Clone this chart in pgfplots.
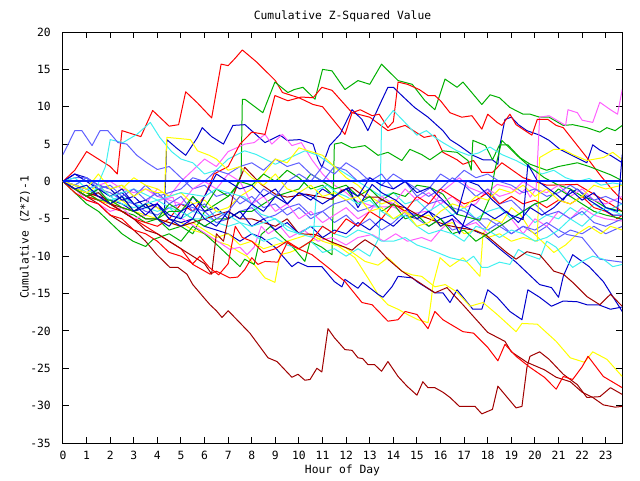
\documentclass[border=0pt]{standalone}
\usepackage{pgfplots}
\pgfplotsset{compat=1.18}
\usepackage{fontspec}
\setmainfont{DejaVu Sans Mono}
\setmonofont{DejaVu Sans Mono}
\definecolor{cR}{HTML}{FF0000}
\definecolor{cG}{HTML}{00B000}
\definecolor{cB}{HTML}{0000CC}
\definecolor{cM}{HTML}{FF60FF}
\definecolor{cC}{HTML}{40F0F0}
\definecolor{cS}{HTML}{6060FF}
\definecolor{cY}{HTML}{FFFF00}
\definecolor{cD}{HTML}{A00000}
\definecolor{cZ}{HTML}{0020FF}
\begin{document}
\begin{tikzpicture}
\path[use as bounding box] (0pt,0pt) rectangle (480pt,360pt);
\begin{axis}[
 at={(47.25pt,27.75pt)}, anchor=south west,
 scale only axis, width=419.25pt, height=308.25pt,
 xmin=0, xmax=23.69, ymin=-35, ymax=20,
 xtick={0,...,23}, ytick={-35,-30,...,20},
 tick align=inside, major tick length=4.5pt,
 axis line style={line width=0.75pt},
 every tick/.style={black, line width=0.75pt},
 /pgf/number format/assume math mode=true,
 ticklabel style={font=\fontsize{8.5}{10}\selectfont},
 xticklabel style={inner sep=0pt, yshift=-6pt},
 yticklabel style={inner sep=0pt, xshift=-9pt},
 every axis title shift=0pt,
 title={Cumulative Z-Squared Value},
 title style={at={(0.5,1.039)}, anchor=center, inner sep=0pt, font=\fontsize{8.5}{10}\selectfont},
 xlabel={Hour of Day},
 xlabel style={at={(0.5,-0.0657)}, anchor=center, inner sep=0pt, font=\fontsize{8.5}{10}\selectfont},
 ylabel={Cumulative (Z*Z)-1},
 ylabel style={at={(-0.068,0.5)}, anchor=center, inner sep=0pt, font=\fontsize{8.5}{10}\selectfont},
 no markers,
 every axis plot/.append style={line width=0.75pt, line join=round},
]
% R1
\addplot[cR] coordinates {(0,0)(0.5,1.5)(1,4)(1.5,3)(2,2)(2.3,1)(2.5,6.8)(3.3,6)(3.8,9.5)(4.5,7.4)(4.9,7.6)(5.2,12)(5.7,10.5)(6.3,8.5)(6.7,15.7)(7,15.5)(7.3,16.5)(7.6,17.6)(8.2,16)(9,13.5)(9.3,11.9)(10,11.2)(10.6,10.3)(11,10)(11.95,6.3)(12.25,9.2)(13,8.6)(13.77,6.8)(14.5,7.5)(15.3,5.9)(15.76,6.2)(16.1,3.9)(16.7,2.9)(16.95,2.3)(17.4,2.8)(17.75,1.2)(18.2,1.2)(18.6,2.5)(19.5,0.5)(20.5,-0.5)(21.8,-0.4)(22.6,-1.9)(23.2,-3)(23.7,-4)};
% G1
\addplot[cG] coordinates {(0,0)(0.5,-1)(1,-2)(1.5,-2.5)(2,-3)(2.5,-4)(3,-4.5)(3.5,-5.5)(4,-5)(4.5,-6.5)(5,-6)(5.5,-7)(6,-4)(6.5,-3)(7,-2)(7.3,-1)(7.55,0.9)(7.6,11)(7.71,11)(8.47,9.2)(8.98,13.3)(9.53,11.9)(9.8,12.3)(10.17,12.6)(10.68,11)(11,15)(11.4,14.8)(11.95,12.3)(12.5,13.5)(13,13)(13.5,15.7)(14.2,13.5)(14.8,13)(15.34,10.8)(15.76,9.6)(16.19,13.7)(16.7,12.6)(16.95,13.3)(17.75,10.3)(18.1,11.6)(18.5,11.2)(18.94,9.9)(19.5,9)(19.8,9)(20.2,8.6)(20.6,8.6)(21.2,7.5)(21.6,7.6)(22.2,7.2)(22.75,6.6)(23.05,7.2)(23.4,6.8)(23.7,7.5)};
% B1
\addplot[cB] coordinates {(0,0)(0.5,-0.5)(1,-1)(1.5,-0.5)(2,-2)(2.5,-1.5)(3,-3)(3.5,-2.5)(4,-3.5)(4.3,-4)(4.4,5.6)(4.8,4.5)(5.2,3.5)(5.7,5.9)(5.9,7.2)(6.3,6)(6.8,5)(7.2,7.5)(7.71,7.6)(8.56,5.2)(9.2,6.2)(9.5,5.5)(10.04,5.6)(10.6,5)(10.8,3)(10.97,1.9)(11.3,4.8)(11.74,6.3)(12.25,9.6)(12.67,8.3)(12.92,6.8)(13.5,10.8)(13.77,12.6)(14,12.6)(14.36,11.5)(14.9,9.9)(15.47,8.6)(16.1,6.8)(16.4,5.6)(16.8,4.8)(17.37,3.5)(17.8,2.9)(18.2,2.9)(18.43,2.3)(18.5,4.6)(18.73,8.3)(19,8.6)(19.3,7.6)(19.66,6.8)(20.2,6.2)(20.6,5.5)(21.06,4.3)(21.5,3.6)(22.2,2.5)(22.45,4.9)(22.75,4.2)(23.2,3.5)(23.7,2.5)};
% M1
\addplot[cM] coordinates {(0,0)(0.5,-1)(1,-2)(1.5,-1)(2,-3)(2.5,-2)(3,-4)(3.5,-3)(4,-1)(4.5,-2)(5,0)(5.5,1.5)(6,3)(6.5,2)(7,4)(7.71,5)(8.1,5.2)(8.56,6.3)(8.85,5)(9.3,6.3)(9.7,4.8)(10.1,5.2)(10.55,2.9)(11,1)(11.5,-0.5)(12,-1.5)(12.37,-2.5)(13.2,-3.4)(14,-3.4)(14.6,-4.4)(15.6,-3.9)(16,-1.5)(16.4,-0.5)(16.8,0.5)(17.2,-0.8)(17.9,-1.7)(18.4,-0.4)(18.94,-0.8)(19.36,-1.7)(19.6,-1)(19.8,-2.1)(20.05,-1)(20.2,8.6)(20.6,8.8)(21.3,7.5)(21.4,9.6)(21.8,9.2)(22,8.2)(22.45,7.9)(22.75,10.6)(23.2,9.6)(23.5,9)(23.7,12.3)};
% C1
\addplot[cC] coordinates {(0,0)(0.5,-0.5)(1,0.5)(1.4,-1)(1.8,2)(2,5.6)(2.54,5.2)(3.13,6.3)(3.7,7.9)(4.1,5.9)(4.6,4)(5,3)(5.5,2.5)(6,1)(6.5,1.5)(7,3)(7.7,4.1)(8.2,3.6)(9,2.3)(9.5,3)(10.25,4.1)(10.8,3.5)(11.5,2)(12,1)(12.5,0)(13,-1)(13.5,-2)(14,-1.5)(14.5,-3)(15,-2.5)(15.5,-4)(16,-3)(16.5,-4.5)(17,-3.5)(17.5,-5)(18,-4)(18.5,-3.5)(19,-5)(19.5,-4)(20,-5.5)(20.5,-4.5)(21,-5)(21.5,-3.5)(22,-4.5)(22.5,-3)(23,-4)(23.7,-3)};
% SB1
\addplot[cS] coordinates {(0,3.6)(0.5,6.8)(0.8,6.8)(1.23,4.8)(1.57,6.8)(1.9,6.8)(2.33,5.2)(2.7,5)(3.13,3.5)(3.56,2.5)(4,1.6)(4.5,2)(5,0.5)(5.5,-1)(6,-0.5)(6.5,-2)(7,-1.5)(7.5,-3)(8,-2)(8.5,-3.5)(9,-3)(9.5,-4.5)(10,-3.5)(10.5,-5)(11,-4)(11.5,-5.5)(12,-4.5)(12.5,-6)(13,-5)(13.5,-6.5)(14,-5.5)(14.5,-4)(15,-5)(15.5,-6)(16,-5)(16.5,-6.5)(17,-6)(17.5,-5)(18,-6.5)(18.5,-5.5)(19,-7)(19.5,-6)(20,-7)(20.5,-6)(21,-7.5)(21.5,-6.5)(22,-7)(22.5,-6)(23,-7)(23.7,-6)};
% Y1
\addplot[cY] coordinates {(0,0)(0.5,-1)(1,-2)(1.5,-1.5)(2,-2.5)(2.5,-3.5)(3,-4)(3.5,-3)(4,-3.5)(4.5,-5)(5,-5.5)(5.5,-6.5)(6,-7)(6.5,-8)(7,-8.5)(7.5,-9.5)(7.8,-10)(8.2,-11.5)(8.56,-12.9)(8.98,-13.5)(9.2,-9.8)(9.6,-9.5)(10,-9)(10.5,-8)(10.97,-7.5)(11.6,-8.5)(12.37,-10.2)(12.92,-12.9)(13.35,-15.1)(13.77,-16.5)(14.2,-17.1)(14.6,-17.8)(15.04,-18.5)(15.47,-18.9)(15.6,-16)(15.68,-13.8)(15.98,-10.2)(16.4,-11.4)(16.95,-10.2)(17.67,-12.7)(17.8,-7)(18.2,-5)(18.6,-5.5)(19,-3.5)(19.4,-4.5)(19.8,-6.5)(20.3,-8)(20.8,-9.5)(21.3,-8.5)(21.8,-7)(22.3,-6)(22.8,-7)(23.2,-6)(23.7,-6.5)};
% D1
\addplot[cD] coordinates {(0,0)(0.5,-1)(1,-2)(1.5,-3)(2,-4.5)(2.5,-5.5)(3,-6.5)(3.5,-8)(3.98,-9.8)(4.53,-11.5)(4.87,-11.5)(5.25,-12.4)(5.5,-13.8)(5.93,-15.4)(6.23,-16.5)(6.5,-17.3)(6.74,-18.2)(7,-17.3)(7.37,-18.5)(7.92,-20.3)(8.69,-23.6)(9.07,-24.1)(9.7,-26.2)(9.96,-25.8)(10.25,-26.6)(10.47,-26.5)(10.76,-25)(10.97,-25.5)(11.23,-19.7)(11.5,-20.9)(11.95,-22.5)(12.25,-22.6)(12.5,-23.6)(12.7,-23.7)(12.92,-24.5)(13.2,-24.5)(13.5,-25.4)(13.77,-24.1)(14.2,-26.1)(14.58,-27.4)(15,-28.6)(15.25,-26.8)(15.47,-27.6)(15.76,-27.6)(16.1,-28.2)(16.4,-28.9)(16.8,-30.1)(17.46,-30.1)(17.75,-31.1)(18.2,-30.5)(18.43,-27.4)(19.2,-30.3)(19.45,-30.1)(19.66,-24.9)(19.79,-23.4)(20.2,-22.8)(20.6,-23.8)(21.2,-25.8)(21.8,-27.2)(22.2,-28.9)(22.75,-28.8)(23.2,-27.6)(23.7,-28.5)};
% R2
\addplot[cR] coordinates {(0,0)(0.5,-1)(1,-1.5)(1.5,-2.5)(2,-3)(2.5,-4)(3,-5)(3.5,-5.5)(4,-6)(4.5,-5)(5,-3)(5.5,-4)(6,-2)(6.4,1)(7,2)(7.5,5)(8,6.6)(8.56,6.3)(8.98,11.5)(9.53,10.8)(10.1,11.3)(10.6,11.2)(10.97,12.6)(11.4,12.2)(12.25,9.2)(12.6,9.6)(13.1,8.8)(13.4,9)(13.77,7.2)(14,8)(14.2,13.3)(14.6,13)(15.1,12.3)(15.47,11.5)(15.76,11.5)(16,10.8)(16.4,9.2)(16.9,8.6)(17.33,8.8)(17.75,7)(18,9)(18.4,7.9)(18.6,7.5)(18.94,9)(19.2,7.6)(19.87,6.2)(20.1,8.3)(20.55,8.3)(20.9,7.5)(21.2,7.2)(21.8,4.8)(22.3,2.8)(22.75,0.9)(23.3,-1.2)(23.7,-2.5)};
% G2
\addplot[cG] coordinates {(0,0)(0.5,-1.5)(1,-3)(1.5,-4)(2,-5.5)(2.5,-7)(2.97,-8)(3.5,-8.7)(3.8,-7.8)(4.5,-7)(5,-8)(5.5,-6)(6,-7)(6.5,-8.4)(7.1,-10.2)(7.5,-11.4)(7.7,-10.4)(7.92,-10.8)(8.1,-11.1)(8.4,-7.1)(8.8,-6)(9.3,-7.5)(9.8,-9)(10.25,-10.7)(10.47,-8)(10.97,-8.8)(11.4,-9.8)(11.5,5)(11.8,5.2)(12.25,4.5)(12.8,4.8)(13.35,3.5)(13.77,3.9)(14.36,2.8)(14.7,4.3)(15.2,3.6)(15.55,2.9)(16.1,4.1)(16.7,3.9)(17.16,2.8)(17.3,1.5)(17.37,5.5)(17.9,4.8)(18.2,2.9)(18.5,4.9)(18.85,4.9)(19.36,3.2)(19.8,2.3)(20.5,1.5)(21,2)(21.8,2.5)(22.3,2)(23.2,0.9)(23.7,0.1)};
% B2
\addplot[cB] coordinates {(0,0)(0.5,-0.5)(1,-1)(1.5,-2)(2,-2.5)(2.5,-3)(3,-4)(3.5,-3.5)(4,-3)(4.5,-5)(5,-5.5)(5.5,-5)(6,-6)(6.5,-6.5)(7,-7)(7.5,-8)(8,-7)(8.43,-7.5)(8.98,-8.8)(9.7,-11.4)(9.96,-10.8)(10.38,-11.4)(10.97,-11.4)(11.5,-13.4)(11.82,-14.1)(11.95,-13.1)(12.5,-14.3)(12.7,-13.5)(13.35,-15.1)(13.56,-15.5)(13.94,-14.1)(14.2,-12.7)(14.8,-12.9)(15.04,-13.5)(15.76,-14.9)(16.1,-14.9)(16.4,-16.2)(16.7,-14.5)(17.37,-17.1)(17.75,-17.1)(18,-14.5)(18.4,-15.5)(18.94,-17.4)(19.45,-18.5)(19.7,-14.5)(20.2,-15.5)(20.7,-16.7)(21.2,-16)(21.8,-16.1)(22.2,-16.5)(22.7,-16.5)(23.2,-17.1)(23.7,-16.8)};
% M2
\addplot[cM] coordinates {(0,0)(0.5,-1)(1,-2.5)(1.5,-3)(2,-4)(2.5,-3.5)(3,-5)(3.5,-4.5)(4.1,-2.5)(4.66,-2.1)(4.96,-4.8)(5.47,-5.8)(6.1,-7.1)(6.65,-8.2)(7.07,-9.1)(7.5,-8.8)(7.8,-9.8)(8.1,-8.8)(8.4,-6)(8.7,-7)(9.2,-6)(9.6,-7.5)(10.2,-6.5)(10.8,-8)(11.4,-7.5)(12,-8.5)(12.5,-7.5)(13.1,-7.1)(13.6,-8)(14.1,-7)(14.6,-8)(15.2,-7.5)(15.6,-8)(16,-6.5)(16.5,-5)(17,-6)(17.5,-5.5)(18,-7)(18.5,-6)(19,-5)(19.5,-7)(20,-5)(20.5,-6)(21,-4)(21.5,-5)(22,-3.5)(22.5,-4.5)(23,-5)(23.7,-5.3)};
% C2
\addplot[cC] coordinates {(0,0)(0.5,-0.5)(1,-1)(1.5,-1.5)(2,-2.5)(2.5,-2)(3,-3)(3.5,-3.5)(4,-4)(4.5,-3.5)(5,-5)(5.5,-4)(6,-4.5)(6.5,-5.5)(7,-6)(7.5,-5.5)(8,-7)(8.5,-8)(9,-7.5)(9.5,-8.5)(10,-9)(10.5,-8)(11,-9.5)(11.5,-9)(12,-10)(12.5,-9)(13,-10)(13.4,-7.5)(13.5,7.5)(14,9.5)(14.4,8.2)(15,6.2)(15.4,6.8)(15.76,5.9)(16.1,5.2)(16.7,4.1)(17.2,3.5)(17.6,3.8)(18.1,4.6)(18.6,3.6)(19.2,2.8)(19.8,1.8)(20.3,1)(20.8,1.5)(21.3,0.5)(21.8,0)(22.3,0.4)(22.8,-0.5)(23.3,-0.2)(23.7,-0.4)};
% SB2
\addplot[cS] coordinates {(0,0)(0.5,-1)(1,-2)(1.5,-1)(2,-1.5)(2.5,-2.5)(3,-3)(3.5,-4)(4,-4.5)(4.5,-3.5)(5,-3)(5.5,-3.5)(6,-4)(6.5,-5.5)(7,-5)(7.5,-4)(8,-3.5)(8.5,-5)(9,-4.5)(9.5,-3.5)(10,-3)(10.5,-4.5)(11,-4)(11.5,-3)(12,-2.5)(12.5,-4)(13,-3.5)(13.5,-2.5)(14,-3)(14.5,-4)(15,-4.5)(15.5,-3)(16,-2.5)(16.5,-3.5)(17,-4)(17.5,-5)(18,-5)(18.5,-6)(19,-7)(19.5,-6)(20,-6.5)(20.5,-5.5)(21,-6.5)(21.36,-7.1)(22,-7.5)(22.75,-10.4)(23.7,-10.8)};
% Y2
\addplot[cY] coordinates {(0,0)(0.5,-1)(1,-1.5)(1.5,-2.5)(2,-3)(2.5,-2.5)(3,-4)(3.5,-4.5)(4,-5)(4.5,-5.5)(5,-6)(5.5,-5.5)(6,-6.5)(6.5,-7.5)(7,-7)(7.5,-8.5)(8,-8)(8.5,-9)(9,-8.5)(9.5,-8)(10,-7.5)(10.5,-7)(11,-8)(11.5,-8.5)(11.95,-8.8)(12.8,-10.7)(13.35,-11.2)(13.77,-10.2)(14.36,-12)(14.8,-12.5)(15.2,-12.7)(15.76,-14.1)(16.2,-13.8)(16.7,-14.8)(17.25,-16.7)(17.8,-16.2)(18.4,-17.8)(19.2,-20.1)(19.45,-19)(20.1,-19.1)(20.9,-21.4)(21.5,-23.6)(22.1,-24.2)(22.45,-22.8)(23.05,-23.8)(23.7,-26.1)};
% D2
\addplot[cD] coordinates {(0,0)(0.5,-0.5)(1,-1.5)(1.5,-2)(2,-3)(2.5,-3.5)(3,-4)(3.5,-5)(4,-5)(4.5,-5.5)(5,-6)(5.5,-5.5)(6,-5)(6.5,-4.5)(7,-4)(7.5,-5)(8,-5)(8.5,-5.5)(9,-6)(9.5,-5)(10,-7)(10.7,-7.1)(11.3,-8)(11.95,-8.8)(12.25,-9.2)(12.5,-8.5)(12.8,-7.8)(13.3,-8.8)(13.77,-10.4)(14.36,-12)(14.7,-12.7)(15.04,-13.4)(15.76,-14.9)(16.27,-14.2)(16.95,-16.5)(18,-20.2)(18.73,-21.4)(19,-22.8)(19.66,-24.2)(20.4,-25.2)(20.9,-26.2)(21.5,-26.8)(22,-28.2)(22.45,-28.9)(22.9,-29.9)(23.4,-30.2)(23.7,-30.1)};
% R3
\addplot[cR] coordinates {(0,0)(0.5,-1)(1,-2)(1.5,-2.5)(2,-3.5)(2.5,-4)(3,-5)(3.5,-6)(4,-7)(4.5,-8)(5,-9)(5.5,-11.1)(6.23,-12.4)(6.5,-12)(7.07,-12.9)(7.4,-12.8)(7.7,-11.8)(8,-10.2)(8.26,-11.1)(8.56,-10.7)(9.1,-10.8)(9.5,-8.2)(9.83,-8.8)(10.55,-9.8)(11.23,-11.5)(11.95,-13.4)(12.67,-16.2)(13.1,-16.5)(13.77,-18.7)(14.2,-18.5)(14.5,-17.4)(15,-17.8)(15.47,-19.7)(15.76,-17.4)(16.1,-18.5)(16.95,-20.1)(17.4,-20.3)(18,-22.2)(18.43,-24)(18.73,-21.8)(19.2,-23.4)(19.8,-24.9)(20.4,-26.2)(20.9,-27.8)(21.2,-26.1)(21.6,-26.5)(22,-24.8)(22.25,-23.4)(22.9,-26.1)(23.7,-27.6)};
% G4
\addplot[cG] coordinates {(0,0)(0.5,-1)(1,-1.5)(1.5,-2.5)(2,-2.5)(2.5,-3.5)(3,-4)(3.5,-5)(4,-5)(4.5,-4)(5,-4)(5.5,-5)(6,-6)(6.5,-5)(7,-5)(7.5,-4)(8,-4)(8.5,-3)(9,-2)(9.5,-1.5)(10,-1)(10.5,1)(11,0)(11.5,-1)(12,-0.5)(12.5,-2)(13,-1)(13.5,-2.5)(14,-1.5)(14.5,-2)(15,-0.5)(15.55,-0.8)(16.1,-1.7)(16.7,-4.4)(17.67,-5.2)(18.1,-2.1)(18.3,1.5)(18.6,5.5)(19.2,3.6)(19.8,1.9)(20.4,0.5)(21,-0.5)(21.5,-1)(22,-2)(22.5,-2.5)(23,-3.5)(23.7,-4)};
% B3
\addplot[cB] coordinates {(0,0)(0.5,1)(1,0.5)(1.5,-0.5)(2,-1)(2.5,-2.5)(3,-2)(3.5,-3.5)(4,-3)(4.5,-4.5)(5,-5)(5.5,-2)(6,-4)(6.5,-3.5)(7,-5)(7.5,-4)(8,-6)(8.5,-5)(9,-6.5)(9.5,-5.5)(10,-7)(10.5,-6)(11,-7.5)(11.5,-6.5)(12,-7)(12.5,-5.5)(13,-6.5)(13.5,-5)(14,-6)(14.5,-4.5)(15,-5)(15.5,-4)(16,-5)(16.5,-4.5)(17,-6)(17.8,-7.1)(18.5,-9)(19.2,-10.8)(20.2,-13.8)(20.7,-14.2)(21,-15.5)(21.2,-12.7)(21.6,-9.8)(22.3,-11.4)(22.9,-13.4)(23.7,-17.4)};
% M3
\addplot[cM] coordinates {(0,0)(0.5,-0.5)(1,-1)(1.5,-0.5)(2,0)(2.5,-1)(3,-1.5)(3.5,-1)(4,-2)(4.5,-2.5)(5,-3)(5.5,-1)(6,0)(6.5,-1)(7,1)(7.5,0)(8,-3)(8.5,-2)(9,-4)(9.5,-3)(10,-5)(10.5,-4)(11,-5.5)(11.5,-4.5)(12,-3.5)(12.5,-5)(13,-4)(13.5,-2)(14,-3)(14.5,-1)(15,-2.5)(15.5,-1.5)(16,-3)(16.5,-2)(17,-3.5)(17.5,-3)(18,-1)(18.5,-2)(19,-1.5)(19.5,0)(20,-1)(20.5,-1.5)(21,-0.5)(21.5,-2)(22,-1)(22.5,-2.5)(23,-3)(23.7,-2)};
% C3
\addplot[cC] coordinates {(0,0)(0.5,-0.5)(1,-1.5)(1.5,-1)(2,-2)(2.5,-3)(3,-3.5)(3.5,-3)(4,-2.5)(4.5,-3.5)(5,-4)(5.5,-5)(6,-5)(6.5,-4)(7,-4.5)(7.5,-5.5)(8,-6)(8.5,-5.5)(9,-5)(9.5,-6.5)(10,-7)(10.5,-6)(11,-6)(11.5,-7)(12,-7.5)(12.5,-6.5)(13,-7)(13.5,-8)(14,-8)(14.5,-7.5)(15,-8.5)(15.55,-9.1)(16.4,-10.2)(17.1,-10.7)(17.4,-10)(17.75,-11.5)(18,-11.5)(18.5,-10.8)(18.94,-11.1)(19.3,-9.1)(19.66,-9.8)(20.2,-10.4)(20.5,-8)(20.9,-8.8)(21.36,-10.7)(21.6,-11.5)(22,-10.7)(22.45,-10)(22.9,-10.4)(23.3,-11.4)(23.7,-11.1)};
% SB3
\addplot[cS] coordinates {(0,0)(0.5,0.5)(1,0.5)(1.5,-0.5)(2,-1)(2.5,-0.5)(3,-2)(3.5,-0.5)(4,-2)(4.5,-1.5)(5,-1)(5.5,0.5)(6,0)(6.5,1.5)(7,1)(7.5,2)(8,2.5)(8.5,1.5)(9,3)(9.5,2)(10,2.5)(10.5,1)(11,0)(11.5,2)(12,1.5)(12.5,0)(13,0.5)(13.5,-0.5)(14,1)(14.5,0)(15,-1)(15.5,-2)(16,-1)(16.5,0.5)(17,-0.5)(17.5,-2)(18,-1)(18.5,-3)(19,-2.5)(19.5,-4)(20,-3)(20.5,-4.5)(21,-4)(21.5,-5)(22,-4)(22.5,-5.5)(23,-6)(23.7,-5)};
% Y3
\addplot[cY] coordinates {(0,0)(0.5,-1)(1,-1.5)(1.5,-0.5)(2,-2)(2.5,-1)(3,0.5)(3.5,-0.5)(4,-1)(4.5,-2)(5,-1.5)(5.5,-3)(6,-2.5)(6.5,-4)(7,-3.5)(7.5,-2)(8,-1)(8.5,1)(9,3)(9.5,2.5)(10,4.5)(10.5,4)(11,3.5)(11.5,2)(12,0.5)(12.5,-0.5)(13,-2)(13.5,-3)(14,-2.5)(14.5,-4)(15,-5)(15.5,-4.5)(16,-6)(16.5,-5.5)(17,-7)(17.5,-6.5)(18,-7.5)(18.5,-7)(19,-8)(19.5,-7.5)(20.1,-8)(20.2,3.2)(20.8,4.3)(21.2,4.3)(21.6,3.6)(22.2,2.8)(22.9,3.2)(23.3,3.9)(23.7,2.9)};
% D3
\addplot[cD] coordinates {(0,0)(0.5,-1)(1,-2)(1.5,-1.5)(2,-3)(2.5,-4)(3,-5)(3.5,-6.5)(4,-7)(4.5,-8)(5,-9)(5.5,-10)(6,-11)(6.3,-12.4)(6.5,-7)(6.8,-8)(7.2,-2)(7.7,1.9)(8.4,-0.4)(9,-1.7)(9.5,-2.1)(10.3,-1.7)(11,-2.1)(11.4,-2.4)(11.8,-1.2)(12.25,-0.8)(12.8,-2.1)(13.35,-2.1)(13.9,-3.1)(14.5,-3.5)(15,-4.4)(15.6,-5.1)(16.2,-5.8)(16.8,-6.2)(17.4,-6.5)(17.9,-7.1)(18.8,-9.5)(19.2,-10.4)(19.66,-9.4)(20.2,-9.8)(20.8,-12)(21.2,-12.4)(21.6,-13.5)(22.2,-15.4)(22.75,-16.5)(23.2,-15.1)(23.7,-16.7)};
% R4
\addplot[cR] coordinates {(0,0)(0.5,-1.5)(1,-2.5)(1.5,-3)(2,-4.5)(2.5,-5)(3,-6.5)(3.5,-7)(4,-8)(4.5,-9.5)(5,-10)(5.5,-11)(5.8,-10)(6.2,-11.5)(6.6,-12.5)(7,-11)(7.3,-6)(7.6,-7.5)(8,-8)(8.5,-9.5)(9,-9)(9.5,-8)(10,-9)(10.5,-8)(11,-6)(11.5,-7)(12,-5)(12.5,-6)(13,-4)(13.5,-5)(14,-3)(14.5,-4)(15,-2)(15.5,-3)(16,-1)(16.5,-2)(17,-3)(17.5,-2.5)(18,-1.5)(18.5,-3)(19,-2)(19.5,-3)(20,-2.5)(20.5,-3.5)(21,-2.5)(21.5,-3)(22,-2)(22.5,-3.5)(23,-4)(23.5,-5)(23.7,-4.5)};
% G6
\addplot[cG] coordinates {(0,0)(0.5,-1)(1,-2)(1.5,-1)(2,-3)(2.5,-2)(3,-4)(3.5,-3)(4,-5)(4.5,-3)(5,-4)(5.5,-2)(6,-3.5)(6.5,-1)(7,-2)(7.5,0)(8,-0.5)(8.5,1)(9,0)(9.5,1.5)(10,0.5)(10.5,-1)(11,-0.5)(11.5,-2)(12,-1)(12.5,-3)(13,-2)(13.5,-4)(14,-3)(14.5,-5)(15,-4.5)(15.5,-6)(16,-5)(16.5,-7)(17,-6.5)(17.5,-8)(18,-7)(18.5,-6)(19,-5)(19.5,-4)(20,-3)(20.5,-2.5)(21,-1)(21.5,-2)(22,-3)(22.5,-4)(23,-4.5)(23.7,-5)};
% B4
\addplot[cB] coordinates {(0,0)(0.5,1)(1,0)(1.5,-1)(2,-2)(2.5,-1)(3,-3)(3.5,-4.5)(4,-3)(4.5,-5)(5,-6)(5.5,-5)(6,-2)(6.5,1)(7,0)(7.5,-1)(8,-0.5)(8.5,-2)(9,-1)(9.5,-3)(10,-1.5)(10.5,-2.5)(11,-1)(11.5,-2)(12.1,-0.8)(12.5,-3.5)(13.1,-0.4)(13.5,-1.5)(14.1,-2.5)(14.5,-3.5)(15,-5)(15.5,-4)(16,-6)(16.5,-5)(16.8,-7)(17.3,-3)(17.8,-4)(18.3,-5)(18.8,-4)(19.3,-5.5)(19.8,-3.5)(20.3,-4.5)(20.8,-3.5)(21.3,-2)(21.8,-1)(22.3,-2.5)(22.8,-3.5)(23.3,-4.5)(23.7,-4.5)};
% C4
\addplot[cC] coordinates {(0,0)(0.5,0.5)(1,-1)(1.5,-0.5)(2,-2)(3,-1)(4,-2.5)(5,-1.5)(6,-2)(6.5,-1)(7,-1.5)(7.7,-2.1)(8.4,-4.4)(9,-5)(9.5,-6)(10,-7)(10.6,-7.5)(10.75,-1.2)(11.2,-0.5)(11.6,-1.5)(12,-2)(12.5,-3)(13,-2.5)(13.5,-4)(14,-5)(14.5,-4.5)(15,-6)(15.5,-7)(16,-6.5)(16.5,-7)(17,-8)(17.5,-6)(18,-6.5)(18.5,-7.5)(19,-6.5)(19.5,-7)(20,-8)(20.5,-7.5)(21,-6.5)(21.5,-5)(22,-6)(22.5,-4.5)(23,-3.5)(23.7,-4.5)};
% SB4
\addplot[cS] coordinates {(0,0)(0.5,-0.5)(1,0.5)(1.5,-1)(2,-0.5)(2.5,-2)(3,-1)(3.5,-2.5)(4,-1.5)(4.5,-3)(5,-2)(5.5,-4)(6,-3)(6.5,-5)(7,-4)(7.5,-2)(8,-3)(8.5,-1)(9,-2)(9.5,0)(10,1)(10.5,0)(11,2)(11.5,1)(12,2.5)(12.5,1.5)(13,0)(13.5,1)(14,-1)(14.5,0)(15,-2)(15.5,-1)(16,1)(16.5,0)(17,1.5)(17.5,0.5)(18,1)(18.5,0)(19,-0.5)(19.5,-1.5)(20,-1)(20.5,-2)(21,-1.5)(21.5,-0.5)(22,-1.5)(22.5,-2.5)(23,-2)(23.7,-3)};
% Y4
\addplot[cY] coordinates {(0,0)(0.5,-0.5)(1,-1)(1.5,1)(2,-1)(2.5,-0.5)(3,-2)(3.5,-1)(4,-1.5)(4.3,-1.5)(4.4,5.9)(5.4,5.6)(5.7,4.1)(6.2,3.5)(6.5,3)(7,1.5)(7.5,2)(8,0.5)(8.5,-0.5)(9,1)(9.5,-1)(10,-1.5)(10.5,-0.5)(11,-2)(11.5,-1.5)(12,-2.5)(12.5,-2)(13,-4)(13.5,-3.5)(14,-5)(14.5,-4)(15,-6)(15.5,-5.5)(16,-4)(16.5,-3)(17,-3.5)(17.5,-2)(18,-2.5)(18.5,-1)(19,-1.5)(19.5,-0.5)(20,-2)(20.5,-1)(21,-2.5)(21.5,-3)(22,-2)(22.5,-0.5)(23,-1)(23.7,-0.5)};
% B5
\addplot[cB] coordinates {(0,0)(0.5,-1)(1,-0.5)(1.5,-2)(2,-3)(2.5,-2)(3,-4)(3.5,-3)(4,-5)(4.5,-6)(5,-4)(5.5,-3)(6,-5)(6.5,-6)(7,-4)(7.5,-5)(8,-3)(8.5,-4)(9,-2)(9.5,-3)(10,-1.5)(10.5,-2)(11,-3)(11.5,-2)(12,-1)(12.5,-2)(13,0.5)(13.5,-0.5)(14,-1)(14.5,0)(15,-1.5)(15.55,-0.8)(16.1,-2.5)(16.7,-4.4)(17.1,0.1)(17.6,-0.5)(18.2,-2.5)(18.9,-4.4)(19.5,-5.1)(19.7,2.3)(20.1,0.1)(20.5,-0.8)(20.9,-1.7)(21.2,-2.5)(21.5,-1.1)(22,-2.5)(22.5,-1.5)(23,-3.5)(23.5,-4)(23.7,3.6)};
% zero line
\addplot[cZ, line width=1.5pt] coordinates {(0,0)(23.7,0)};
\end{axis}
\end{tikzpicture}
\end{document}
